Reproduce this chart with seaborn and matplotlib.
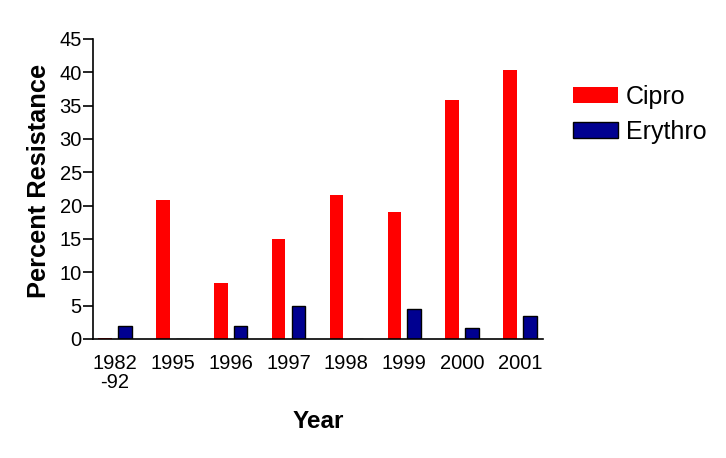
import matplotlib
matplotlib.use("Agg")
import matplotlib.pyplot as plt
import seaborn as sns
import pandas as pd

years = ["1982\n-92", "1995", "1996", "1997", "1998", "1999", "2000", "2001"]
cipro = [0.1, 20.8, 8.4, 15.0, 21.6, 19.0, 35.8, 40.4]
erythro = [2.0, 0.0, 2.0, 5.0, 0.0, 4.5, 1.7, 3.4]
drugs = ["Cipro", "Erythro"]

df = pd.DataFrame({
    "Year": years * 2,
    "Percent Resistance": cipro + erythro,
    "Drug": [drugs[0]] * len(years) + [drugs[1]] * len(years),
})

sns.set_style("ticks")
plt.rcParams["font.family"] = ["Liberation Sans", "DejaVu Sans"]
plt.rcParams["text.color"] = "black"
plt.rcParams["axes.labelcolor"] = "black"
plt.rcParams["xtick.color"] = "black"
plt.rcParams["ytick.color"] = "black"

fig = plt.figure(figsize=(7.26, 4.58), dpi=100)
ax = fig.add_axes([0.128, 0.26, 0.62, 0.655])

palette = {"Cipro": "#ff0000", "Erythro": "#000090"}
sns.barplot(data=df, x="Year", y="Percent Resistance", hue="Drug",
            palette=palette, width=0.68, gap=0.31, ax=ax, saturation=1,
            edgecolor="none", linewidth=0)

for patch in ax.patches:
    fc = patch.get_facecolor()
    if fc[2] > 0.3 and fc[0] < 0.2:
        patch.set_edgecolor("black")
        patch.set_linewidth(1.0)

ax.set_ylim(0, 45)
ax.set_yticks(range(0, 46, 5))
ax.set_xlim(-0.38, 7.4)
ax.tick_params(axis="y", length=7, width=1.2, labelsize=14.5, direction="out", pad=1)
ax.tick_params(axis="x", length=0, labelsize=14.5, pad=11)
for t in ax.get_xticklabels():
    t.set_linespacing(1.0)
sns.despine(ax=ax)
for s in ["left", "bottom"]:
    ax.spines[s].set_color("black")
    ax.spines[s].set_linewidth(1.2)

ax.set_ylabel("Percent Resistance", fontsize=18.3, fontweight="bold", labelpad=6)
ax.yaxis.label.set_y(0.527)
ax.set_xlabel("Year", fontsize=17.5, fontweight="bold", labelpad=13)

handles, labels = ax.get_legend_handles_labels()
for h in handles:
    if h.get_label() == "Erythro":
        h.set_edgecolor("black")
        h.set_linewidth(1.0)
ax.get_legend().remove()
fig.legend(handles, labels, loc="upper left", bbox_to_anchor=(573 / 726, 1 - 85 / 458),
           frameon=False, fontsize=18, handlelength=1.8, handleheight=0.6,
           handletextpad=0.3, labelspacing=0.45, borderaxespad=0, borderpad=0)

fig.savefig("out.png", dpi=100)
